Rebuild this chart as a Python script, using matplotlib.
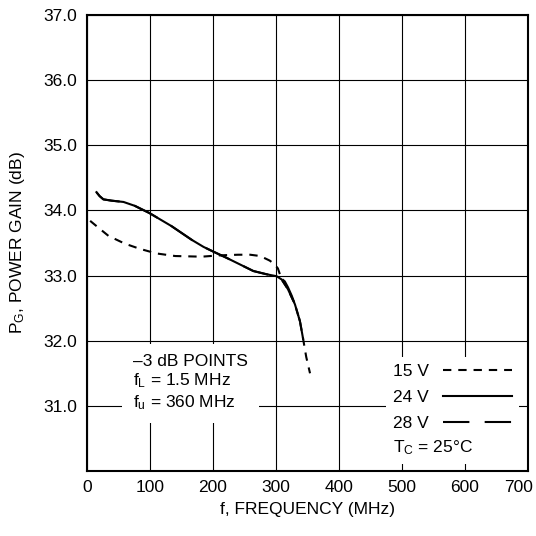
import matplotlib
matplotlib.use("Agg")
import matplotlib.pyplot as plt
from matplotlib.lines import Line2D
from matplotlib.transforms import ScaledTranslation

plt.rcParams["font.family"] = ["Liberation Sans", "DejaVu Sans"]
plt.rcParams["mathtext.fontset"] = "custom"
plt.rcParams["mathtext.rm"] = "Liberation Sans"
plt.rcParams["mathtext.it"] = "Liberation Sans:italic"
plt.rcParams["lines.scale_dashes"] = False

FS = 12.5

# Power gain vs frequency
f_15v = [5, 20, 34, 60, 84, 110, 140, 182, 210, 240, 259, 275, 290, 297, 303,
         309, 319, 330, 338, 343, 348, 354]
g_15v = [33.84, 33.72, 33.61, 33.49, 33.41, 33.34, 33.30, 33.29, 33.31, 33.32, 33.32,
         33.30, 33.23, 33.18, 33.11, 32.94, 32.79, 32.56, 32.30, 32.03, 31.75, 31.50]

f_24v = [15, 20, 26, 39, 58, 76, 99, 134, 166, 185, 200, 222, 243, 264, 285,
         301, 309, 319, 330, 338, 343]
g_24v = [34.28, 34.22, 34.17, 34.15, 34.13, 34.07, 33.96, 33.76, 33.55, 33.44, 33.37,
         33.27, 33.17, 33.07, 33.02, 32.99, 32.94, 32.79, 32.56, 32.30, 32.03]

f_28v = [15, 20, 26, 39, 58, 76, 99, 134, 166, 185, 200, 222, 243, 264, 285,
         301, 308, 314, 319, 325, 330, 338]
g_28v = [34.28, 34.22, 34.17, 34.15, 34.13, 34.07, 33.96, 33.76, 33.55, 33.44, 33.37,
         33.27, 33.17, 33.07, 33.02, 32.99, 32.96, 32.91, 32.82, 32.69, 32.56, 32.30]

x_ticks = [0, 100, 200, 300, 400, 500, 600, 700]
y_ticks = [30, 31, 32, 33, 34, 35, 36, 37]
y_tick_labels = ["", "31.0", "32.0", "33.0", "34.0", "35.0", "36.0", "37.0"]

fig = plt.figure(figsize=(5.36, 5.36), dpi=100)
ax = fig.add_axes([87 / 536, 65 / 536, 441 / 536, 456 / 536])

ax.plot(f_28v, g_28v, color="k", lw=1.5, dashes=(19, 11), label="28 V")
ax.plot(f_15v, g_15v, color="k", lw=1.5, dashes=(6, 5), label="15 V")
ax.plot(f_24v, g_24v, color="k", lw=1.5, label="24 V")

ax.set_xlim(0, 700)
ax.set_ylim(30, 37)
ax.set_xticks(x_ticks)
ax.set_yticks(y_ticks)
ax.set_yticklabels(y_tick_labels)
ax.tick_params(length=0, labelsize=FS)
ax.tick_params(axis="x", pad=6.5)
ax.tick_params(axis="y", pad=7)
ax.grid(True, color="k", lw=0.8)
ax.set_axisbelow(True)
for s in ax.spines.values():
    s.set_linewidth(1.5)

# last x label sits inside the right edge
lab = ax.get_xticklabels()[-1]
lab.set_horizontalalignment("right")
lab.set_transform(lab.get_transform() + ScaledTranslation(5 / 100, 0, fig.dpi_scale_trans))

ax.set_xlabel("f, FREQUENCY (MHz)", fontsize=FS)
ax.set_ylabel("P$_\\mathrm{G}$, POWER GAIN (dB)", fontsize=FS)
ax.xaxis.set_label_coords(0.5, -0.068)
ax.yaxis.set_label_coords(-0.137, 0.5)

ax.text(0.104, 0.257, "\u20133 dB POINTS\nf$_\\mathrm{L}$ = 1.5 MHz\nf$_\\mathrm{u}$ = 360 MHz",
        transform=ax.transAxes, ha="left", va="top", fontsize=FS,
        bbox=dict(facecolor="white", edgecolor="none", pad=8))

handles = [
    Line2D([], [], color="k", lw=1.5, dashes=(6, 5)),
    Line2D([], [], color="k", lw=1.5),
    Line2D([], [], color="k", lw=1.5, dashes=(19, 11)),
]
labels = ["15 V", "24 V", "28 V"]
leg = ax.legend(handles, labels, loc="lower right", bbox_to_anchor=(0.98, 0.072),
                borderaxespad=0, markerfirst=False, fontsize=FS, handlelength=4.0,
                handletextpad=0.8, labelspacing=0.62, borderpad=0.4,
                frameon=True, fancybox=False, framealpha=1)
leg.get_frame().set_facecolor("white")
leg.get_frame().set_edgecolor("none")

ax.text(0.694, 0.052, "T$_\\mathrm{C}$ = 25\u00b0C", transform=ax.transAxes,
        ha="left", va="center", fontsize=FS,
        bbox=dict(facecolor="white", edgecolor="none", pad=5))

fig.savefig("out.png", dpi=100)
